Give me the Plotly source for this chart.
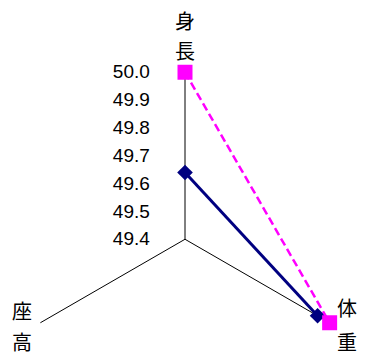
import plotly.graph_objects as go

categories = ["身長", "体重", "座高"]
series_a = [49.64, 49.95, None]
series_b = [50.0, 50.0, None]

# the page puts the figure 8px in from the top-left corner
OFF = 8
W, H = 365 - OFF, 353 - OFF
L, R, T, B = 10, 13, 64, 30

fig = go.Figure()
fig.add_trace(go.Scatterpolar(
    r=series_a, theta=categories, mode="lines+markers",
    line=dict(color="#000080", width=3),
    marker=dict(symbol="diamond", size=12, color="#000080"),
    cliponaxis=False, connectgaps=False, showlegend=False,
))
fig.add_trace(go.Scatterpolar(
    r=series_b, theta=categories, mode="lines+markers",
    line=dict(color="#FF00FF", width=2.5, dash="8px,4px"),
    marker=dict(symbol="square", size=15, color="#FF00FF"),
    cliponaxis=False, connectgaps=False, showlegend=False,
))

# category labels, one character per line, placed in window pixels
label_pos = {
    "身長": [(185, 21), (185, 50)],
    "体重": [(347, 307), (347, 341)],
    "座高": [(22, 310), (22, 341)],
}
pw, ph = W - L - R, H - T - B
for cat in categories:
    for ch, (px, py) in zip(cat, label_pos[cat]):
        fig.add_annotation(
            x=(px - OFF - L) / pw, y=(H - B - (py - OFF)) / ph,
            xref="paper", yref="paper",
            text=ch, showarrow=False, xanchor="center", yanchor="middle",
            font=dict(family="Noto Sans CJK JP", size=20, color="black"),
        )

fig.update_layout(
    width=W, height=H,
    margin=dict(l=L, r=R, t=T, b=B),
    paper_bgcolor="white",
    font=dict(family="Liberation Sans, Arial", size=19, color="black"),
    polar=dict(
        bgcolor="white",
        sector=[-30, 210],
        angularaxis=dict(
            rotation=90, direction="clockwise", showline=False,
            showgrid=True, gridcolor="black", gridwidth=1,
            ticks="", showticklabels=False,
        ),
        radialaxis=dict(
            range=[49.4, 50.0], dtick=0.1, tickformat=".1f",
            angle=90, side="counterclockwise", showline=False,
            showgrid=False, ticks="outside", ticklen=28,
            tickcolor="rgba(0,0,0,0)", tickangle=90,
        ),
    ),
)

fig.write_html("out.html")
